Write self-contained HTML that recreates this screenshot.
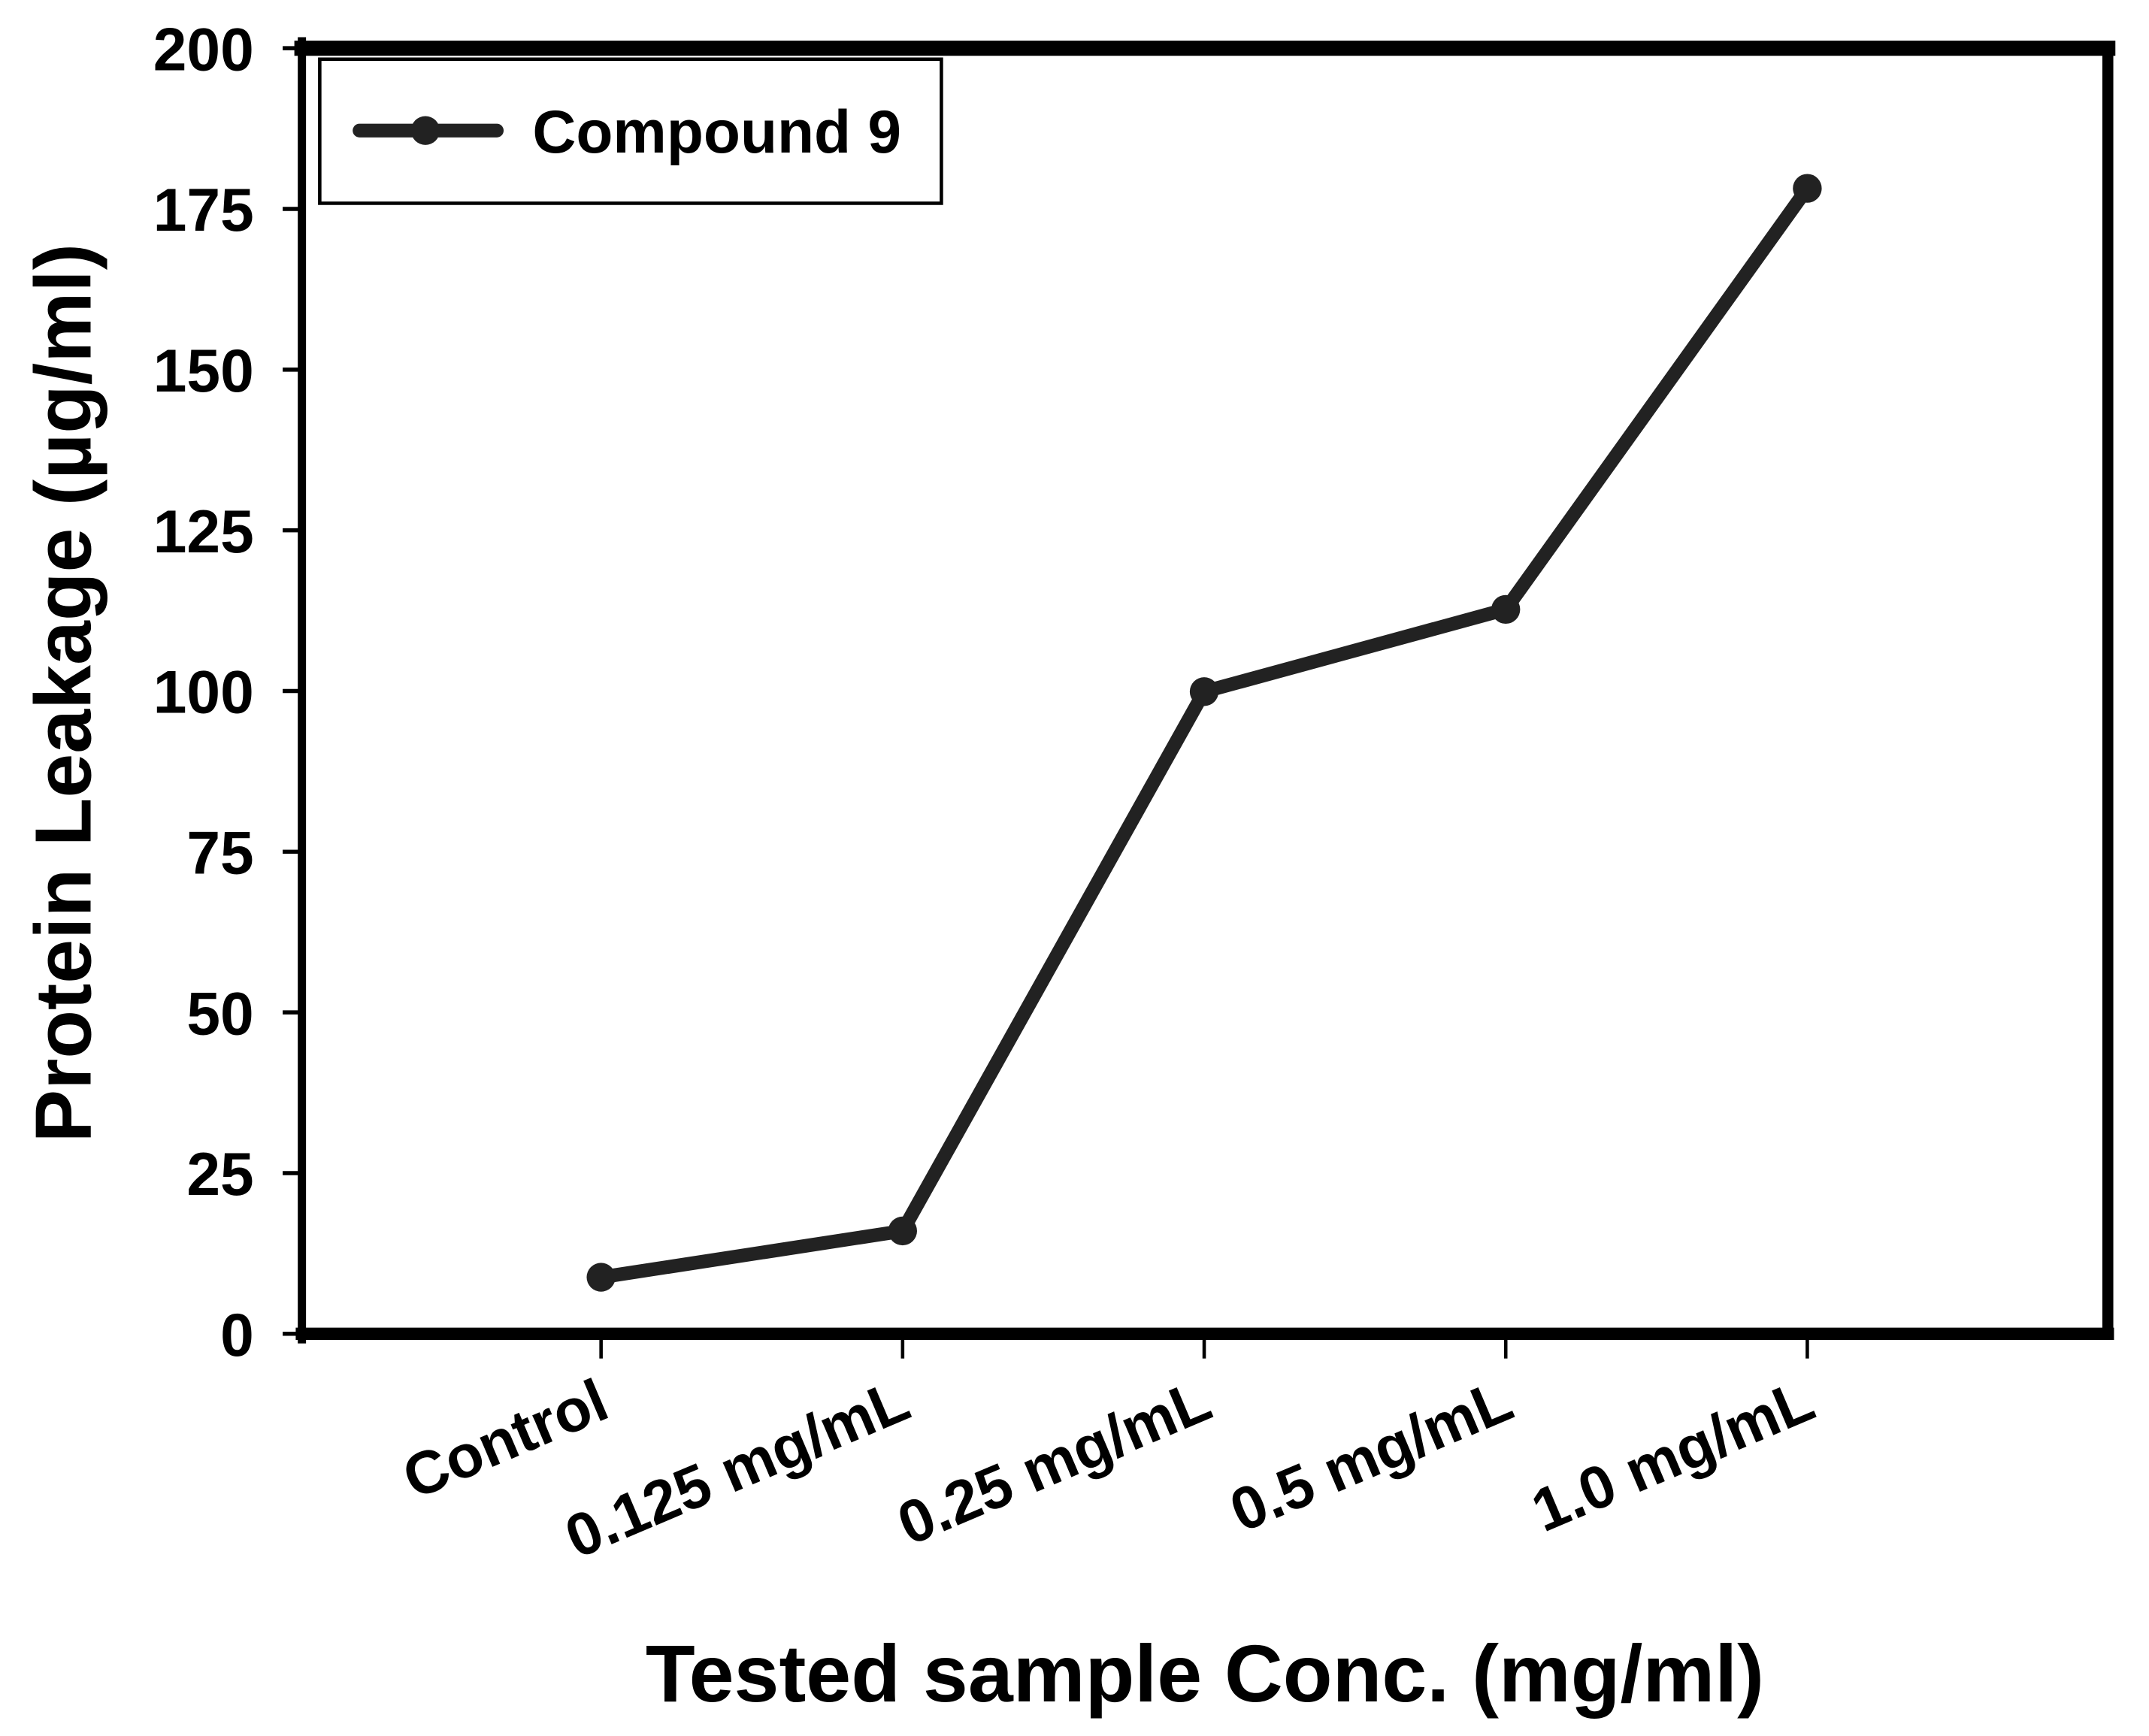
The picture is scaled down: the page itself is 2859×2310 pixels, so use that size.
<!DOCTYPE html>
<html><head><meta charset="utf-8"><style>
html,body{margin:0;padding:0;background:#fff;}
svg{display:block;font-family:"Liberation Sans",Arial,sans-serif;font-weight:bold;}
</style></head><body>
<svg id="chart" width="2859" height="2310" viewBox="0 0 1566 1265" xmlns="http://www.w3.org/2000/svg">
<rect x="0" y="0" width="1566" height="1265" fill="#fff"/>
</svg>
<script>
const categories = ["Control","0.125 mg/mL","0.25 mg/mL","0.5 mg/mL","1.0 mg/mL"];
const seriesValues = [8.8, 16.0, 99.9, 112.7, 178.2];
const yTicks = [0,25,50,75,100,125,150,175,200];
const seriesName = "Compound 9";

const NS="http://www.w3.org/2000/svg";
const svg=document.getElementById('chart');
const L=220,R=1536,T=35,B=972;
function x(i){return 438+i*(1317-438)/(categories.length-1);}
function y(v){return B-(v-0)/(200-0)*(B-T);}
function mk(tag,attrs,parent){const e=document.createElementNS(NS,tag);for(const k in attrs)e.setAttribute(k,attrs[k]);(parent||svg).appendChild(e);return e;}

yTicks.forEach(v=>{
  const t=mk('line',{x1:206,x2:L,y1:y(v),y2:y(v),stroke:'#000','stroke-width':3});
  
  
  const lb=mk('text',{x:185,y:y(v)+16,'text-anchor':'end','font-size':44,fill:'#000'});
  lb.textContent=v;
  
  
});
categories.forEach((c,i)=>{
  const t=mk('line',{x1:x(i),x2:x(i),y1:B,y2:990,stroke:'#000','stroke-width':2.5});
  
  
  const lb=mk('text',{x:0,y:0,'text-anchor':'end','font-size':44,fill:'#000',transform:`translate(${x(i)+8},1032) rotate(-23)`});
  lb.textContent=c;
  
  
});
[[L,T,R,T,11],[R,T,R,B,8],[L,B,R,B,9],[L,T-5,L,B+4,6]].forEach(a=>{
  const f=mk('line',{x1:a[0],y1:a[1],x2:a[2],y2:a[3],stroke:'#000','stroke-width':a[4],'stroke-linecap':'square'});
  
  
});
const pts=seriesValues.map((v,i)=>x(i)+','+y(v)).join(' ');
const pl=mk('polyline',{points:pts,fill:'none',stroke:'#222','stroke-width':10,'stroke-linejoin':'round'});


seriesValues.forEach((v,i)=>{
  const c=mk('circle',{cx:x(i),cy:y(v),r:10.5,fill:'#222'});
  
  
});
const lg=mk('g',{});


mk('rect',{x:233,y:43,width:453,height:105,fill:'#fff',stroke:'#000','stroke-width':2.5},lg);
mk('line',{x1:262,x2:362,y1:95,y2:95,stroke:'#222','stroke-width':10,'stroke-linecap':'round'},lg);
mk('circle',{cx:310,cy:95,r:10.5,fill:'#222'},lg);
const lt=mk('text',{x:388,y:111,'font-size':44,fill:'#000'},lg);
lt.textContent=seriesName;


const yt=mk('text',{x:0,y:0,'text-anchor':'middle','font-size':58,fill:'#000',transform:'translate(66,505) rotate(-90)'});
yt.textContent='Protein Leakage (µg/ml)';


const xt=mk('text',{x:878,y:1240,'text-anchor':'middle','font-size':59,fill:'#000'});
xt.textContent='Tested sample Conc. (mg/ml)';


</script>
</body></html>
